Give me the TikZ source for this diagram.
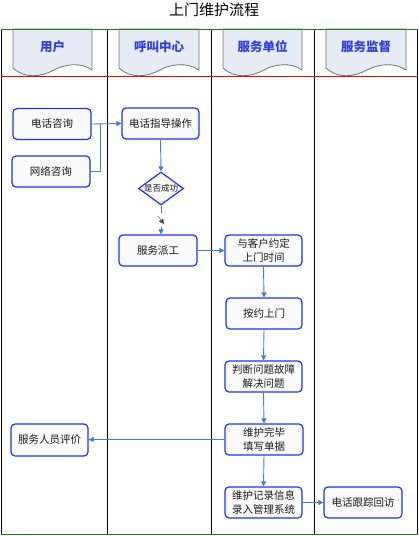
\documentclass[tikz,border=0pt]{standalone}
\usepackage{fontspec}
\setmainfont{Noto Sans CJK SC}
\usetikzlibrary{shapes.geometric,arrows.meta,calc}
\definecolor{boxblue}{HTML}{2230F0}
\definecolor{conblue}{HTML}{4A7CC4}
\definecolor{hdrfill}{HTML}{E6EBF5}
\definecolor{hdrtxt}{HTML}{2E3FE0}
\definecolor{lanegreen}{HTML}{1E7B1E}
\tikzset{
  box/.style={draw=boxblue, line width=1.2pt, rounded corners=4pt, fill=black!2,
    minimum width=78pt, minimum height=31pt, inner sep=1pt, align=center,
    font=\fontsize{10.5}{14.5}\selectfont, text=black!90},
  conn/.style={draw=conblue, line width=0.9pt, -{Triangle[length=5pt,width=5pt]}},
  plainconn/.style={draw=conblue, line width=0.9pt},
  hdrshape/.style={draw=black!55, line width=0.8pt, fill=hdrfill},
  hdrtext/.style={text=hdrtxt, font=\fontsize{12.5}{14}\selectfont\bfseries},
  lane/.style={draw=black, line width=0.9pt},
  tickmark/.style={fill=white, inner sep=0pt, minimum width=9pt, minimum height=14pt,
    path picture={\draw[black!70, densely dotted, line width=0.8pt]
      ($(path picture bounding box.north west)+(1.5pt,-3pt)$) --
      ($(path picture bounding box.south east)+(-1.5pt,3pt)$);}}
}
\begin{document}
\begin{tikzpicture}[x=1pt,y=-1pt]
\useasboundingbox (0,0) rectangle (419,536);
% title
\node[font=\fontsize{15}{16}\selectfont] (title) at (214,9.5) {上门维护流程};
% headers
\foreach \L/\W/\nm/\txt in {13/79/h1/用户, 119/80/h2/呼叫中心, 223/79/h3/服务单位, 326/80/h4/服务监督}{
  \path[hdrshape] (\L,29) -- (\L,68)
     .. controls (\L+12,79) and (\L+28,77) .. (\L+41,70)
     .. controls (\L+52,64) and (\L+68,62) .. (\L+\W,70) -- (\L+\W,29) -- cycle;
  \node[hdrtext] (\nm) at (\L+\W/2,47) {\txt};
}
% lanes
\foreach \x in {1.3,107.3,211.3,314.7,417.5}{
  \draw[lane] (\x,29.3) -- (\x,534.5);
}
\draw[lanegreen, line width=1pt] (1,29.3) -- (417.5,29.3);
\draw[lanegreen, line width=1.4pt] (1,534.6) -- (417.5,534.6);
\draw[red, line width=1pt] (1,76.7) -- (417.5,76.7);
% nodes
\node[box] (tel) at (52,124) {电话咨询};
\node[box] (web) at (51,171.5) {网络咨询};
\node[box, minimum width=77pt] (guide) at (160.5,123.5) {电话指导操作};
\node[draw=boxblue, line width=1.2pt, fill=black!2, shape=diamond, minimum width=45pt,
      minimum height=33pt, inner sep=0pt] (dia) at (161,188.5) {};
\node[font=\fontsize{8.5}{10}\selectfont, text=black!90, inner sep=0pt] (diat) at (dia.center) {是否成功};
\node[box] (disp) at (158,250.5) {服务派工};
\node[box, minimum width=77pt] (appt) at (263.5,250.5) {与客户约定\\上门时间};
\node[box, minimum width=76pt] (visit) at (264,313.5) {按约上门};
\node[box, minimum width=77pt] (judge) at (263.5,376.5) {判断问题故障\\解决问题};
\node[box] (done) at (264,439.5) {维护完毕\\填写单据};
\node[box, minimum width=77pt] (record) at (263.5,502.5) {维护记录信息\\录入管理系统};
\node[box] (follow) at (363,502.5) {电话跟踪回访};
\node[box, minimum width=77pt, minimum height=32pt] (eval) at (49.5,440) {服务人员评价};
% connectors
\coordinate (join) at (100,124);
\draw[conn] (tel.east) -- (guide.west);
\draw[plainconn] (web.east) -| (join);
\draw[conn] (guide.south) -- (dia.north);
\draw[conn] (dia.south) -- (dia.south |- disp.north) node[midway, tickmark] (tk) {};
\draw[conn] (disp.east) -- (disp.east -| appt.west);
\draw[conn] (appt.south) -- (visit.north);
\draw[conn] (visit.south) -- (judge.north);
\draw[conn] (judge.south) -- (done.north);
\draw[conn] (done.west) -- (done.west -| eval.east);
\draw[conn] (done.south) -- (record.north);
\draw[conn] (record.east) -- (follow.west);
\end{tikzpicture}
\end{document}
